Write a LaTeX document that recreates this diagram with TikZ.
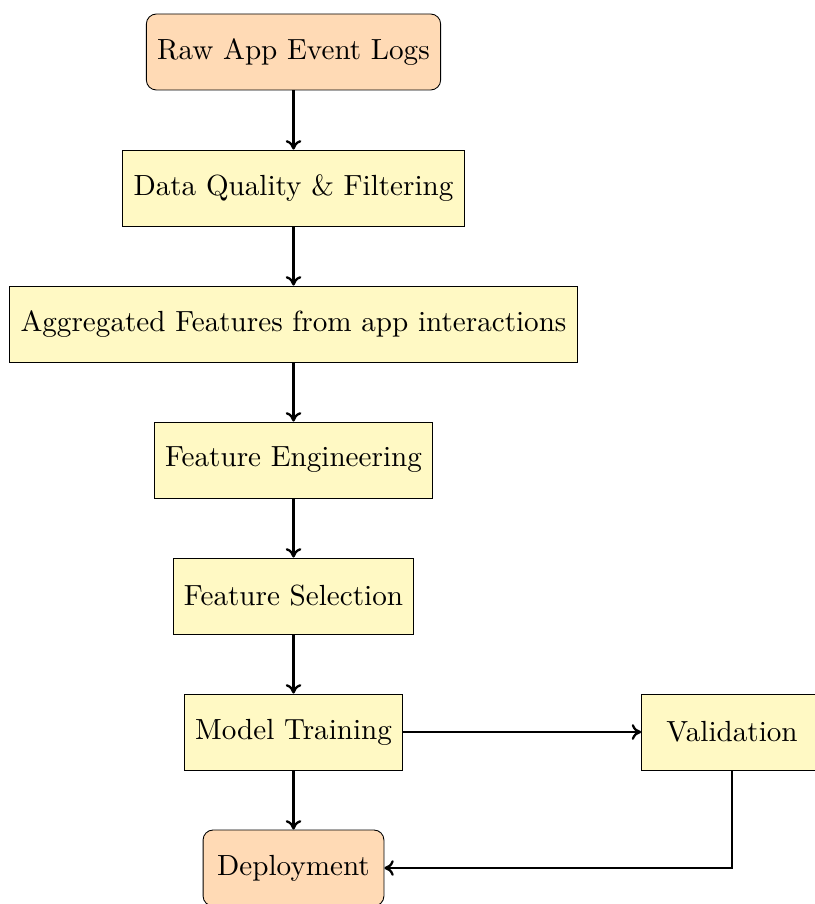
\documentclass[tikz,border=0pt]{standalone}
\usetikzlibrary{arrows.meta}
\definecolor{peach}{RGB}{255,218,181}
\definecolor{paleyellow}{RGB}{255,249,196}
\begin{document}
\begin{tikzpicture}[x=0.35pt,y=-0.35pt,
  base/.style={draw=black,line width=0.3pt,minimum height=26.6pt,minimum width=63.3pt,inner xsep=3.8pt,font=\fontsize{10.2}{12}\selectfont,anchor=center},
  proc/.style={base,fill=paleyellow},
  term/.style={base,fill=peach,rounded corners=3.5pt},
  conn/.style={-{To[length=3.3pt,width=5.5pt]},line width=0.8pt}]
\useasboundingbox (0,0) rectangle (814,904);
\node[term] (raw) at (293.5,52) {Raw App Event Logs};
\node[proc] (dq) at (293.5,188) {Data Quality \& Filtering};
\node[proc] (agg) at (293.5,324) {Aggregated Features from app interactions};
\node[proc] (fe) at (293.5,460) {Feature Engineering};
\node[proc] (fs) at (293.5,596) {Feature Selection};
\node[proc] (mt) at (293.5,732) {Model Training};
\node[proc] (val) at (732,732) {Validation};
\node[term] (dep) at (293.5,868) {Deployment};
\draw[conn] (raw) -- (dq);
\draw[conn] (dq) -- (agg);
\draw[conn] (agg) -- (fe);
\draw[conn] (fe) -- (fs);
\draw[conn] (fs) -- (mt);
\draw[conn] (mt) -- (dep);
\draw[conn] (mt) -- (val);
\draw[conn] (val.south) |- (dep.east);
\end{tikzpicture}
\end{document}
